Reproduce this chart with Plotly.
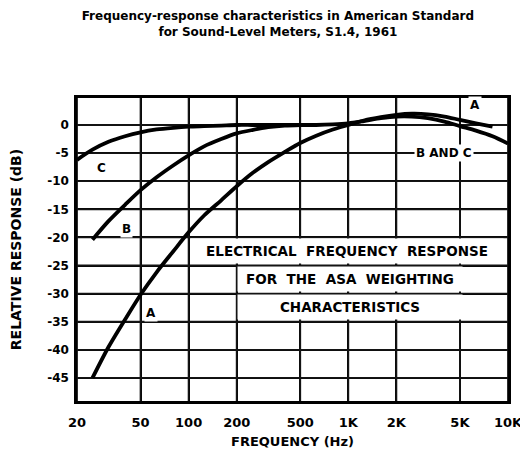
import math
import plotly.graph_objects as go

# ---- data ----
freq_a = [25, 31.5, 40, 50, 63, 80, 100, 125, 160, 200, 250, 315, 400, 500, 630, 800,
          1000, 1250, 1600, 2000, 2500, 3150, 4000, 5000, 6300, 8000]
db_a = [-45.0, -39.5, -34.6, -30.2, -26.2, -22.5, -19.1, -16.1, -13.4, -10.9, -8.6, -6.6,
        -4.8, -3.2, -1.9, -0.8, 0.0, 0.8, 1.4, 1.8, 2.0, 1.9, 1.5, 0.9, 0.3, -0.3]

freq_b = [25, 31.5, 40, 50, 63, 80, 100, 125, 160, 200, 250, 315, 400, 500]
db_b = [-20.4, -17.1, -14.2, -11.6, -9.3, -7.2, -5.4, -3.8, -2.5, -1.5, -0.9, -0.4, -0.1, 0.0]

freq_c = [20, 25, 31.5, 40, 50, 63, 80, 100, 125, 160, 200, 250, 315, 400, 500, 630, 800,
          1000, 1250, 1600, 2000, 2500, 3150, 4000, 5000, 6300, 8000, 10000]
db_c = [-6.2, -4.4, -3.0, -2.0, -1.3, -0.8, -0.5, -0.3, -0.2, -0.1, 0.0, 0.0, 0.0, 0.0, 0.0,
        0.0, 0.1, 0.3, 0.7, 1.2, 1.5, 1.5, 1.2, 0.6, -0.2, -1.0, -2.0, -3.3]

x_ticks = [20, 50, 100, 200, 500, 1000, 2000, 5000, 10000]
x_tick_labels = ["20", "50", "100", "200", "500", "1K", "2K", "5K", "10K"]
y_ticks = [0, -5, -10, -15, -20, -25, -30, -35, -40, -45]
y_tick_labels = ["0", "-5", "-10", "-15", "-20", "-25", "-30", "-35", "-40", "-45"]

X_RANGE = [20, 10000]
Y_RANGE = [-49.1, 4.8]

FONT = "DejaVu Sans"
BOLD = dict(family=FONT, color="black", weight="bold")

fig = go.Figure()

# grid lines, one two-point trace per tick value
for t in x_ticks:
    fig.add_trace(go.Scatter(x=[t, t], y=[Y_RANGE[0], Y_RANGE[1]], mode="lines",
                             line=dict(color="rgb(20,20,20)", width=1.8),
                             showlegend=False, hoverinfo="skip", cliponaxis=False))
for t in y_ticks:
    fig.add_trace(go.Scatter(x=[X_RANGE[0], X_RANGE[1]], y=[t, t], mode="lines",
                             line=dict(color="rgb(20,20,20)", width=1.8),
                             showlegend=False, hoverinfo="skip", cliponaxis=False))

for fx, fy in [(freq_a, db_a), (freq_b, db_b), (freq_c, db_c)]:
    fig.add_trace(go.Scatter(x=fx, y=fy, mode="lines",
                             line=dict(color="black", width=3.8, shape="spline", smoothing=0.8),
                             showlegend=False, hoverinfo="skip"))

curve_labels = [
    ("A", 6200, 3.6),
    ("B AND C", 4000, -5.0),
    ("C", 28.3, -7.6),
    ("B", 41.0, -18.5),
    ("A", 58, -33.5),
]
for txt, xx, yy in curve_labels:
    fig.add_annotation(x=math.log10(xx), y=yy, text=txt, showarrow=False,
                       font=dict(size=12, **BOLD), bgcolor="white", borderpad=1)

box_lines = [
    ("ELECTRICAL  FREQUENCY  RESPONSE", 975, -22.5, 306),
    ("FOR  THE  ASA  WEIGHTING", 1030, -27.4, 218),
    ("CHARACTERISTICS", 1030, -32.3, 218),
]
for txt, xx, yy, w in box_lines:
    fig.add_annotation(x=math.log10(xx), y=yy, text=txt, showarrow=False, width=w, height=18,
                       font=dict(size=13.5, **BOLD), bgcolor="white", borderpad=3)

# the page body adds an 8 px offset, so the figure is 8 px smaller than the window
fig.update_layout(
    width=520, height=443,
    margin=dict(l=69, r=20, t=90, b=50, autoexpand=False),
    paper_bgcolor="white", plot_bgcolor="white",
    title=dict(text="Frequency-response characteristics in American Standard<br>for Sound-Level Meters, S1.4, 1961",
               x=0.519, xanchor="center", y=0.973, yanchor="middle",
               font=dict(size=12, **BOLD)),
    font=dict(family=FONT, color="black"),
)
common = dict(showgrid=True, gridcolor="#000000", gridwidth=1.5, zeroline=False, automargin=False,
              showline=True, linecolor="black", linewidth=2.5, mirror=True,
              ticks="outside", tickcolor="rgba(0,0,0,0)")
fig.update_xaxes(type="log", range=[math.log10(X_RANGE[0]), math.log10(X_RANGE[1])],
                 tickmode="array", tickvals=x_ticks, ticktext=x_tick_labels,
                 tickfont=dict(size=13, **BOLD), ticklen=8,
                 title=dict(text="FREQUENCY (Hz)", font=dict(size=13, **BOLD), standoff=8), **common)
fig.update_yaxes(range=Y_RANGE, tickmode="array", tickvals=y_ticks, ticktext=y_tick_labels,
                 tickfont=dict(size=12, **BOLD), ticklen=3,
                 title=dict(text="RELATIVE RESPONSE (dB)", font=dict(size=14, **BOLD), standoff=27), **common)

fig.write_html("out.html")
